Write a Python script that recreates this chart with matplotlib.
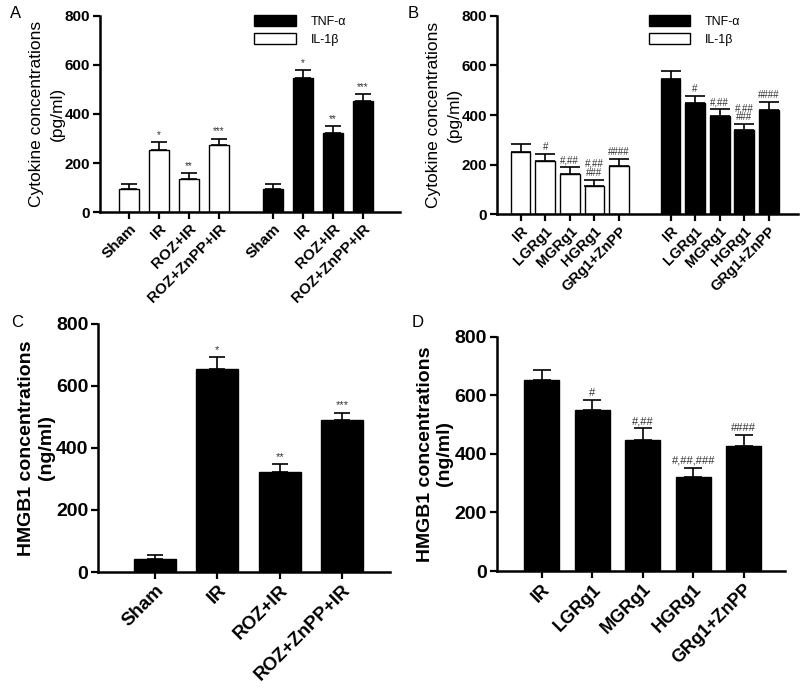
import matplotlib
matplotlib.use("Agg")
import matplotlib.pyplot as plt
from matplotlib.patches import Patch

plt.rcParams["font.family"] = ["Liberation Sans", "DejaVu Sans"]

# panel A
groups_a = ["Sham", "IR", "ROZ+IR", "ROZ+ZnPP+IR"]
il_a = [95, 253, 133, 272]
il_a_err = [21, 32, 26, 28]
tnf_a = [95, 546, 324, 451]
tnf_a_err = [21, 34, 27, 30]
marks_a = ["", "*", "**", "***"]

# panel B
groups_b = ["IR", "LGRg1", "MGRg1", "HGRg1", "GRg1+ZnPP"]
il_b = [252, 213, 163, 114, 196]
il_b_err = [32, 30, 27, 25, 27]
tnf_b = [544, 447, 397, 338, 421]
tnf_b_err = [34, 30, 26, 24, 31]
marks_b = ["", "#", "#,##", "#,##\n###", "####"]

# panel C
hmgb_c = [43, 656, 322, 491]
hmgb_c_err = [13, 36, 25, 22]

# panel D
hmgb_d = [652, 549, 449, 322, 427]
hmgb_d_err = [36, 35, 38, 30, 36]
marks_d = ["", "#", "#,##", "#,##,###", "####"]


fig = plt.figure(figsize=(8, 6.93), dpi=100)


def style_axis(ax, xs, labels, fs, xfs, xlim):
    ax.spines["top"].set_visible(False)
    ax.spines["right"].set_visible(False)
    ax.spines["left"].set_linewidth(1.8)
    ax.spines["bottom"].set_linewidth(1.8)
    ax.set_ylim(0, 800)
    ax.set_yticks([0, 200, 400, 600, 800])
    ax.set_xlim(*xlim)
    ax.set_xticks(xs)
    ax.set_xticklabels(labels, rotation=45, ha="right", rotation_mode="anchor",
                       fontweight="bold", fontsize=xfs)
    for t in ax.get_yticklabels():
        t.set_fontweight("bold")
        t.set_fontsize(fs)
    ax.tick_params(width=1.6, length=5, pad=2)


def bars(ax, xs, vals, errs, width, color, marks=None, fs=7):
    ax.bar(xs, vals, width=width, color=color, edgecolor="black", linewidth=1.0)
    ax.errorbar(xs, vals, yerr=[[0] * len(errs), errs], fmt="none",
                ecolor="black", elinewidth=1.2, capsize=width * 9, capthick=1.2)
    if marks:
        for x, v, e, m in zip(xs, vals, errs, marks):
            if m:
                ax.text(x, v + e + 8, m, ha="center", va="bottom",
                        fontsize=fs, linespacing=0.9, color="#333333")


legend_handles = [Patch(facecolor="black", edgecolor="black", label="TNF-α"),
                  Patch(facecolor="white", edgecolor="black", label="IL-1β")]

# ---- A
ax_a = fig.add_axes([0.125, 0.694, 0.375, 0.283])
xa_il = [0, 1, 2, 3]
xa_tnf = [x + 4.8 for x in xa_il]
bars(ax_a, xa_il, il_a, il_a_err, 0.67, "white", marks_a)
bars(ax_a, xa_tnf, tnf_a, tnf_a_err, 0.67, "black", marks_a)
style_axis(ax_a, xa_il + xa_tnf, groups_a * 2, 11, 11, (-0.97, 9.03))
ax_a.set_ylabel("Cytokine concentrations\n(pg/ml)", fontsize=12.5,
                labelpad=0, linespacing=1.45)
fig.legend(handles=legend_handles,
           loc="upper left", bbox_to_anchor=(0.304, 0.995), frameon=False,
           fontsize=9, handlelength=3.3, handleheight=1.0, labelspacing=0.45,
           handletextpad=1.2)

# ---- B
ax_b = fig.add_axes([0.621, 0.691, 0.376, 0.286])
xb_il = [0, 1, 2, 3, 4]
xb_tnf = [x + 6.1 for x in xb_il]
bars(ax_b, xb_il, il_b, il_b_err, 0.8, "white", marks_b)
bars(ax_b, xb_tnf, tnf_b, tnf_b_err, 0.8, "black", marks_b)
style_axis(ax_b, xb_il + xb_tnf, groups_b * 2, 11, 10.5, (-0.97, 11.27))
ax_b.set_ylabel("Cytokine concentrations\n(pg/ml)", fontsize=12.5,
                labelpad=0, linespacing=1.45)
fig.legend(handles=legend_handles,
           loc="upper left", bbox_to_anchor=(0.797, 0.995), frameon=False,
           fontsize=9, handlelength=3.3, handleheight=1.0, labelspacing=0.45,
           handletextpad=1.2)

# ---- C
ax_c = fig.add_axes([0.1225, 0.1746, 0.365, 0.358])
xc = [0, 1, 2, 3]
bars(ax_c, xc, hmgb_c, hmgb_c_err, 0.67, "black", marks_a, fs=8)
style_axis(ax_c, xc, groups_a, 14, 13.5, (-0.915, 3.77))
ax_c.set_ylabel("HMGB1 concentrations\n(ng/ml)", fontsize=14, fontweight="bold",
                labelpad=1)

# ---- D
ax_d = fig.add_axes([0.621, 0.176, 0.36, 0.338])
xd = [0, 1, 2, 3, 4]
bars(ax_d, xd, hmgb_d, hmgb_d_err, 0.69, "black", marks_d, fs=8)
style_axis(ax_d, xd, groups_b, 14, 13, (-0.89, 4.81))
ax_d.set_ylabel("HMGB1 concentrations\n(ng/ml)", fontsize=14, fontweight="bold",
                labelpad=1)

# panel letters
fig.text(0.012, 0.98, "A", fontsize=12, va="center")
fig.text(0.51, 0.98, "B", fontsize=12, va="center")
fig.text(0.014, 0.534, "C", fontsize=12, va="center")
fig.text(0.515, 0.534, "D", fontsize=12, va="center")

fig.savefig("out.png", dpi=100)
